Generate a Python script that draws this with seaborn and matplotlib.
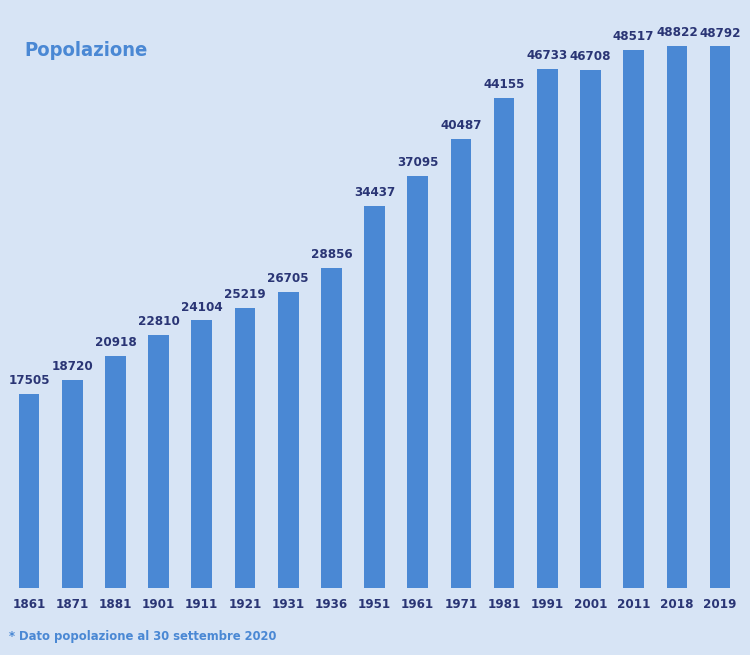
import matplotlib
matplotlib.use("Agg")
import matplotlib.pyplot as plt
import seaborn as sns
import pandas as pd

anni = ['1861', '1871', '1881', '1901', '1911', '1921', '1931', '1936', '1951',
        '1961', '1971', '1981', '1991', '2001', '2011', '2018', '2019']
popolazione = [17505, 18720, 20918, 22810, 24104, 25219, 26705, 28856, 34437,
               37095, 40487, 44155, 46733, 46708, 48517, 48822, 48792]

bg = '#d7e4f5'
bar_color = '#4a88d4'
label_color = '#2a3575'

sns.set_style('white')
plt.rcParams['font.family'] = ['DejaVu Sans']
plt.rcParams['font.stretch'] = 'condensed'
plt.rcParams['font.weight'] = 'bold'

df = pd.DataFrame({'anno': anni, 'pop': popolazione})

fig = plt.figure(figsize=(7.5, 6.55), dpi=100, facecolor=bg)
ax = fig.add_axes([0.0099, 0.1023, 0.979, 0.867])
ax.set_facecolor(bg)

sns.barplot(data=df, x='anno', y='pop', color=bar_color, width=0.48,
            saturation=1, linewidth=0, ax=ax)

# etichette sopra le barre
for i, v in enumerate(popolazione):
    ax.annotate(str(v), (i, v), xytext=(0, 5), textcoords='offset points',
                ha='center', va='bottom', fontsize=9.5, fontweight='bold',
                fontstretch='condensed', color=label_color)

ax.set_xlim(-0.5, len(anni) - 0.5)
ax.set_ylim(0, 51166)
ax.set_xlabel('')
ax.set_ylabel('')
ax.set_yticks([])
ax.tick_params(axis='x', length=0, pad=7, labelsize=9.5, labelcolor=label_color)
for t in ax.get_xticklabels():
    t.set_fontweight('bold')
    t.set_fontstretch('condensed')
sns.despine(ax=ax, left=True, bottom=True, top=True, right=True)

fig.text(24 / 750, 1 - 56 / 655, 'Popolazione', fontsize=14.5, fontweight='bold',
         fontstretch='condensed', color=bar_color, ha='left', va='baseline')
fig.text(9 / 750, 1 - 640 / 655, '* Dato popolazione al 30 settembre 2020', fontsize=9.3,
         fontweight='bold', fontstretch='condensed', color=bar_color,
         ha='left', va='baseline')

fig.savefig('out.png', dpi=100, facecolor=bg)
